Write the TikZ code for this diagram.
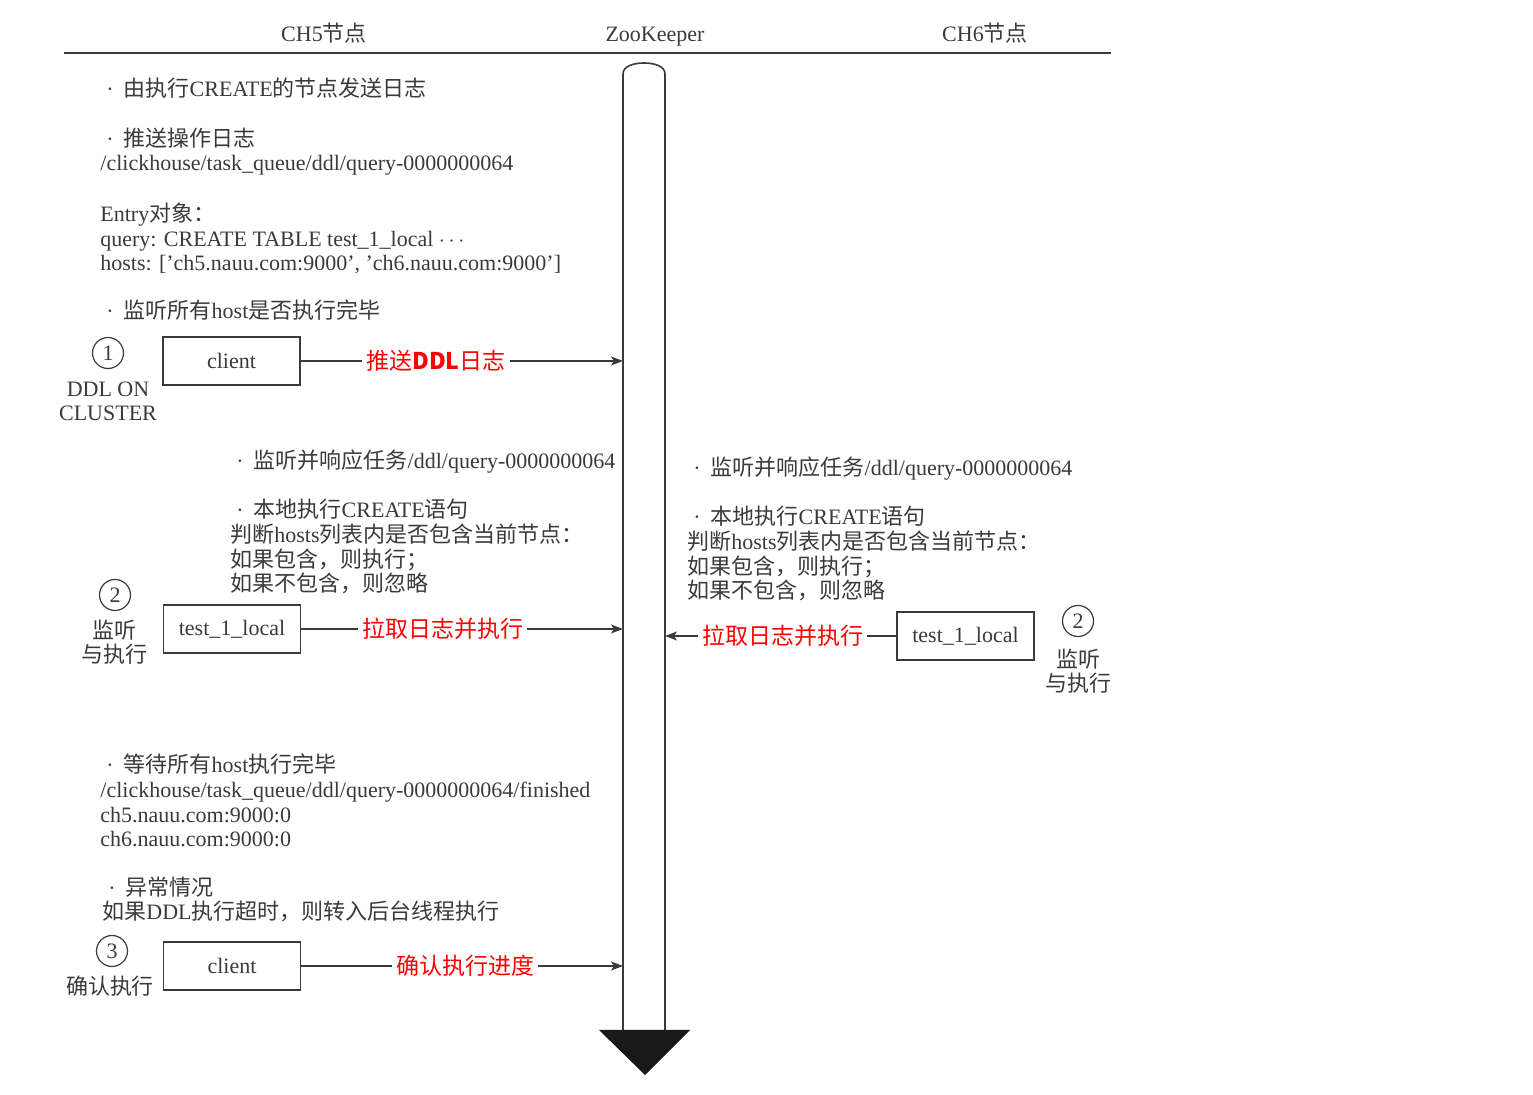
\documentclass[tikz,border=0pt]{standalone}
\usepackage{fontspec}
\setmainfont{Liberation Serif}
\newfontfamily\cjk{Noto Sans CJK SC}
\usepackage{tikz}
\usetikzlibrary{arrows.meta}
\definecolor{ink}{HTML}{3A3A3A}
\definecolor{mark}{HTML}{FF0000}
\newcommand\zh[1]{{\cjk #1}}
\newcommand\bul{\hspace*{3pt}·\hspace{5pt}}

\begin{document}
\begin{tikzpicture}[
  x=0.5pt, y=-0.5pt,
  >={Stealth[length=6pt,width=4.5pt,inset=1.5pt]},
  every node/.style={text=ink, font=\fontsize{11}{12.4}\selectfont},
  txt/.style={anchor=base west, align=left, inner sep=0pt},
  note/.style={anchor=base, align=center, inner sep=0pt},
  box/.style={draw=ink, line width=0.75pt, minimum width=68.5pt, minimum height=24pt},
  num/.style={circle, draw=ink, line width=0.6pt, minimum size=15.5pt, inner sep=0pt},
  lbl/.style={text=mark, fill=white, inner sep=2pt, font=\cjk\fontsize{11.5}{13}\selectfont}
]
  \useasboundingbox (0,0) rectangle (1533,1095);
  \node[note] (ch5) at (324,42) {CH5\zh{节点}};
  \node[note] (zk) at (655,42) {ZooKeeper};
  \node[note] (ch6) at (985,42) {CH6\zh{节点}};
  \draw[ink, line width=0.7pt] (64,53) -- (1111,53);

  \draw[ink, line width=0.8pt, fill=white] (623,1030) -- (623,74)
    .. controls (623,66) and (634,63) .. (644,63)
    .. controls (654,63) and (665,66) .. (665,74) -- (665,1030);
  \fill[black!90] (599,1030) -- (690,1030) -- (645,1075) -- cycle;
  \coordinate (zkl) at (623,0);
  \coordinate (zkr) at (665,0);

  \node[txt] (send) at (100,97) {\bul\zh{由执行}CREATE\zh{的节点发送日志}};
  \node[txt] (log) at (100,171) {\bul\zh{推送操作日志}\\/clickhouse/task\_queue/ddl/query-0000000064};
  \node[txt] (entry) at (100,271) {Entry\zh{对象：}\\query: CREATE TABLE test\_1\_local $\cdots$\\hosts: ['ch5.nauu.com:9000', 'ch6.nauu.com:9000']};
  \node[txt] (listen) at (100,319) {\bul\zh{监听所有}host\zh{是否执行完毕}};

  \node[num] (n1) at (108,353) {1};
  \node[note] (n1cap) at (108,421) {DDL ON\\CLUSTER};
  \node[box] (push) at (231.5,361) {client};

  \node[txt] (watch5) at (230,469) {\bul\zh{监听并响应任务}/ddl/query-0000000064};
  \node[txt] (run5) at (230,592) {\bul\zh{本地执行}CREATE\zh{语句}\\\zh{判断}hosts\zh{列表内是否包含当前节点：}\\\zh{如果包含，则执行；}\\\zh{如果不包含，则忽略}};
  \node[num] (n2) at (115,595) {2};
  \node[note] (n2cap) at (115,663) {\zh{监听}\\\zh{与执行}};
  \node[box] (pull) at (232,629) {test\_1\_local};

  \node[txt] (watch6) at (687,476) {\bul\zh{监听并响应任务}/ddl/query-0000000064};
  \node[txt] (run6) at (687,599) {\bul\zh{本地执行}CREATE\zh{语句}\\\zh{判断}hosts\zh{列表内是否包含当前节点：}\\\zh{如果包含，则执行；}\\\zh{如果不包含，则忽略}};
  \node[box] (rpull) at (965.5,636) {test\_1\_local};
  \node[num] (rn2) at (1078,621) {2};
  \node[note] (rn2cap) at (1078,692) {\zh{监听}\\\zh{与执行}};

  \node[txt] (wait) at (100,847) {\bul\zh{等待所有}host\zh{执行完毕}\\/clickhouse/task\_queue/ddl/query-0000000064/finished\\ch5.nauu.com:9000:0\\ch6.nauu.com:9000:0};
  \node[txt] (fail) at (102,920) {\bul\zh{异常情况}\\\zh{如果}DDL\zh{执行超时，则转入后台线程执行}};
  \node[num] (n3) at (112,951) {3};
  \node[note] (n3cap) at (110,995) {\zh{确认执行}};
  \node[box] (ack) at (232,966) {client};

  \foreach \b/\p/\t in {push/0.42/{推送\textbf{DDL}日志}, pull/0.44/{拉取日志并执行}, ack/0.51/{确认执行进度}}
    \draw[->, ink, line width=0.7pt] (\b.east) -- (\b.east -| zkl) node[lbl, pos=\p] {\t};
  \draw[->, ink, line width=0.7pt] (rpull.west) -- (rpull.west -| zkr) node[lbl, pos=0.49] {拉取日志并执行};
\end{tikzpicture}
\end{document}
